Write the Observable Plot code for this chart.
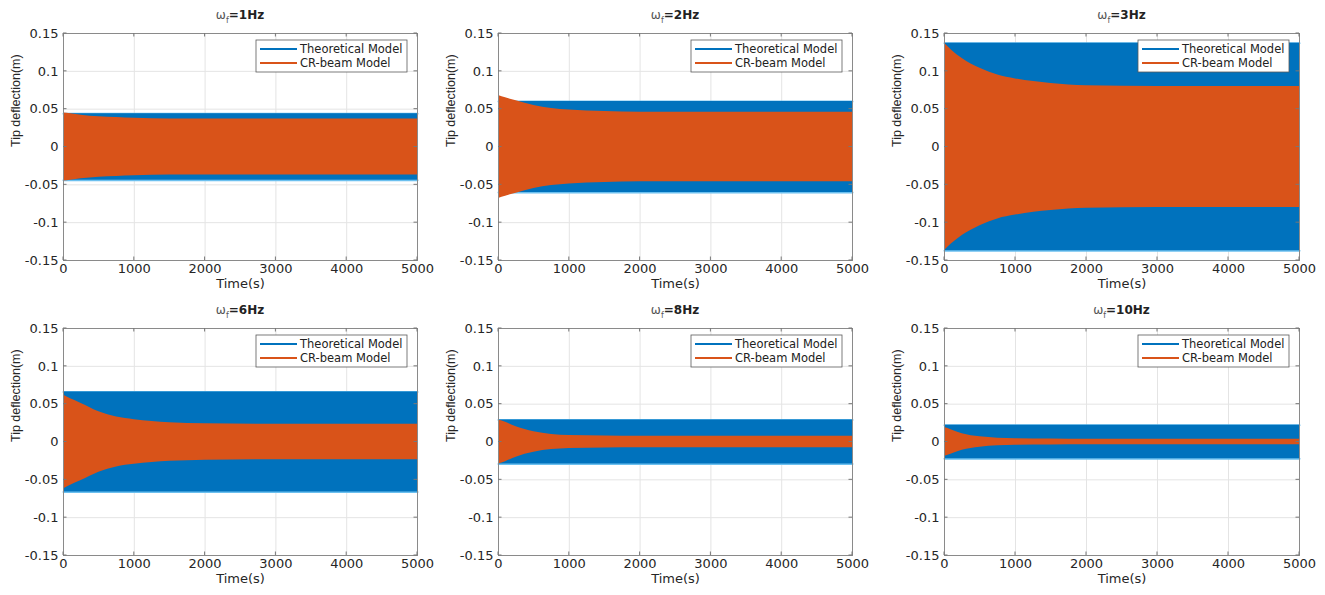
<!DOCTYPE html>
<html><head><meta charset="utf-8">
<script src="https://cdn.jsdelivr.net/npm/d3@7"></script>
<script src="https://cdn.jsdelivr.net/npm/@observablehq/plot@0.6"></script>
<style>
body{margin:0;background:#fff;}
#root{position:relative;width:1325px;height:595px;overflow:hidden;background:#fff;}
.panel{position:absolute;}
.title{position:absolute;font-family:"DejaVu Sans",sans-serif;font-weight:bold;font-size:12px;color:#222;white-space:nowrap;transform:translate(-50%,-50%);line-height:1;}
.title .w{font-weight:normal;color:#555;}
.title sub{font-size:8px;font-weight:normal;color:#555;}
</style></head><body><div id="root"></div>
<script>
// ---- data ----
const frequencies = ["1Hz", "2Hz", "3Hz", "6Hz", "8Hz", "10Hz"];
const times = [0, 100, 250, 500, 750, 1000, 1500, 2000, 3000, 4000, 5000];
const theoreticalAmplitude = [0.044, 0.060, 0.137, 0.066, 0.029, 0.022];
const crBeam1Hz  = [0.045, 0.044, 0.042, 0.040, 0.039, 0.038, 0.037, 0.037, 0.037, 0.037, 0.037];
const crBeam2Hz  = [0.068, 0.065, 0.061, 0.055, 0.051, 0.049, 0.047, 0.046, 0.046, 0.046, 0.046];
const crBeam3Hz  = [0.137, 0.128, 0.117, 0.104, 0.095, 0.090, 0.084, 0.081, 0.080, 0.080, 0.080];
const crBeam6Hz  = [0.062, 0.057, 0.051, 0.040, 0.033, 0.0295, 0.0256, 0.024, 0.0235, 0.0235, 0.0235];
const crBeam8Hz  = [0.029, 0.026, 0.020, 0.0135, 0.010, 0.0085, 0.0078, 0.0075, 0.0075, 0.0075, 0.0075];
const crBeam10Hz = [0.019, 0.016, 0.011, 0.0068, 0.005, 0.0044, 0.004, 0.0037, 0.0036, 0.0036, 0.0036];
const crBeamEnvelopes = [crBeam1Hz, crBeam2Hz, crBeam3Hz, crBeam6Hz, crBeam8Hz, crBeam10Hz];
const xTicks = [0, 1000, 2000, 3000, 4000, 5000];
const yTicks = [-0.15, -0.1, -0.05, 0, 0.05, 0.1, 0.15];
const seriesNames = ["Theoretical Model", "CR-beam Model"];
const seriesColors = ["#0072BD", "#D95319"];
const xLabel = "Time(s)";
const yLabel = "Tip deflection(m)";

// ---- layout ----
const svgLeft = [0, 440, 880], svgWidth = [440, 440, 445];
const svgTop = [0, 295], svgHeight = 295;
const plotLeft = [63, 498, 944], plotW = [354, 354, 355];
const plotTop = [33, 328], plotH = 227;

function legendMark(index, scales, values, dims) {
  const g = d3.create("svg:g");
  const right = dims.width - dims.marginRight - 10;
  const w = 151, h = 32;
  const left = right - w, top = dims.marginTop + 7;
  g.append("rect").attr("x", left).attr("y", top).attr("width", w).attr("height", h)
    .attr("fill", "white").attr("stroke", "#5a5a5a").attr("stroke-width", 0.8);
  seriesNames.forEach((name, i) => {
    const yy = Math.round(top + 9 + i * 14);
    g.append("line").attr("x1", left + 4).attr("x2", left + 41).attr("y1", yy).attr("y2", yy)
      .attr("stroke", seriesColors[i]).attr("stroke-width", 2);
    g.append("text").attr("x", left + 44).attr("y", yy).attr("dy", "0.35em")
      .attr("text-anchor", "start")
      .attr("font-size", 11.5).attr("font-family", "DejaVu Sans").attr("fill", "#222").text(name);
  });
  return g.node();
}

function innerTicks(index, scales, values, dims) {
  const g = d3.create("svg:g").attr("stroke", "#777").attr("stroke-width", 1);
  const L = dims.marginLeft, R = dims.width - dims.marginRight;
  const T = dims.marginTop, B = dims.height - dims.marginBottom;
  const k = 3.5;
  for (const t of xTicks) {
    const px = scales.x(t);
    g.append("line").attr("x1", px).attr("x2", px).attr("y1", B).attr("y2", B - k);
    g.append("line").attr("x1", px).attr("x2", px).attr("y1", T).attr("y2", T + k);
  }
  for (const t of yTicks) {
    const py = scales.y(t);
    g.append("line").attr("y1", py).attr("y2", py).attr("x1", L).attr("x2", L + k);
    g.append("line").attr("y1", py).attr("y2", py).attr("x1", R).attr("x2", R - k);
  }
  return g.node();
}

const root = document.getElementById("root");
frequencies.forEach((freq, p) => {
  const row = Math.floor(p / 3), col = p % 3;
  const rows = times.map((t, i) => ({t, th: theoreticalAmplitude[p], cr: crBeamEnvelopes[p][i]}));
  const W = svgWidth[col];
  const mL = plotLeft[col] - svgLeft[col];
  const mT = plotTop[row] - svgTop[row];
  const mR = W - mL - plotW[col];
  const mB = svgHeight - mT - plotH;
  const chart = Plot.plot({
    width: W, height: svgHeight,
    marginLeft: mL, marginRight: mR, marginTop: mT, marginBottom: mB,
    style: {fontFamily: "DejaVu Sans, sans-serif", fontSize: "13px", color: "#262626", background: "transparent", overflow: "visible"},
    x: {domain: [0, 5000], ticks: xTicks, tickSize: 0, tickPadding: 3, label: null, tickFormat: d => String(d)},
    y: {domain: [-0.15, 0.15], ticks: yTicks, tickSize: 0, tickPadding: 5, label: null, tickFormat: d => String(d)},
    marks: [
      Plot.ruleX(xTicks, {x: d => d, stroke: "#e4e4e4", strokeWidth: 1}),
      Plot.ruleY(yTicks, {y: d => d, stroke: "#e4e4e4", strokeWidth: 1}),
      Plot.lineY(rows, {x: "t", y: "th", stroke: "#6cc0ef", strokeWidth: 2}),
      Plot.lineY(rows, {x: "t", y: d => -d.th, stroke: "#6cc0ef", strokeWidth: 2}),
      Plot.areaY(rows, {x: "t", y1: d => -d.th, y2: "th", fill: seriesColors[0]}),
      Plot.areaY(rows, {x: "t", y1: d => -d.cr, y2: "cr", fill: seriesColors[1], curve: "monotone-x"}),
      Plot.frame({stroke: "#8a8a8a", strokeWidth: 1}),
      innerTicks,
      legendMark,
      Plot.text([xLabel], {text: d => d, frameAnchor: "bottom", dy: 27, fontSize: 13, fill: "#262626"}),
      Plot.text([yLabel], {text: d => d, frameAnchor: "left", dx: -48, rotate: -90, fontSize: 12.5, fontFamily: "Liberation Sans", fill: "#262626"})
    ]
  });
  const div = document.createElement("div");
  div.className = "panel";
  div.style.left = svgLeft[col] + "px";
  div.style.top = svgTop[row] + "px";
  div.appendChild(chart);
  root.appendChild(div);

  const title = document.createElement("div");
  title.className = "title";
  title.style.left = (plotLeft[col] + plotW[col] / 2) + "px";
  title.style.top = (plotTop[row] - 16) + "px";
  title.innerHTML = '<span class="w">ω</span><sub>f</sub>=' + freq;
  root.appendChild(title);
});
</script>
</body></html>
